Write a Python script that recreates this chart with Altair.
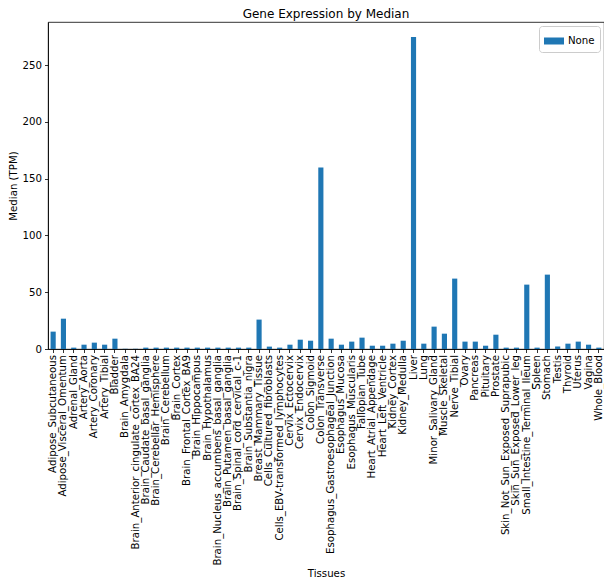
import altair as alt
import pandas as pd

tissues = [
    "Adipose_Subcutaneous", "Adipose_Visceral_Omentum", "Adrenal_Gland", "Artery_Aorta",
    "Artery_Coronary", "Artery_Tibial", "Bladder", "Brain_Amygdala",
    "Brain_Anterior_cingulate_cortex_BA24", "Brain_Caudate_basal_ganglia",
    "Brain_Cerebellar_Hemisphere", "Brain_Cerebellum", "Brain_Cortex",
    "Brain_Frontal_Cortex_BA9", "Brain_Hippocampus", "Brain_Hypothalamus",
    "Brain_Nucleus_accumbens_basal_ganglia", "Brain_Putamen_basal_ganglia",
    "Brain_Spinal_cord_cervical_c-1", "Brain_Substantia_nigra", "Breast_Mammary_Tissue",
    "Cells_Cultured_fibroblasts", "Cells_EBV-transformed_lymphocytes", "Cervix_Ectocervix",
    "Cervix_Endocervix", "Colon_Sigmoid", "Colon_Transverse",
    "Esophagus_Gastroesophageal_Junction", "Esophagus_Mucosa", "Esophagus_Muscularis",
    "Fallopian_Tube", "Heart_Atrial_Appendage", "Heart_Left_Ventricle", "Kidney_Cortex",
    "Kidney_Medulla", "Liver", "Lung", "Minor_Salivary_Gland", "Muscle_Skeletal",
    "Nerve_Tibial", "Ovary", "Pancreas", "Pituitary", "Prostate",
    "Skin_Not_Sun_Exposed_Suprapubic", "Skin_Sun_Exposed_Lower_leg",
    "Small_Intestine_Terminal_Ileum", "Spleen", "Stomach", "Testis", "Thyroid",
    "Uterus", "Vagina", "Whole_Blood",
]

medians = [
    15.3, 26.7, 1.2, 3.8,
    5.6, 3.8, 9.1, 0.2,
    0.2, 1.2,
    1.2, 1.2, 1.2,
    1.2, 1.2, 1.2,
    1.2, 1.2,
    1.2, 1.2, 25.9,
    2.1, 1.2, 3.8,
    8.2, 7.3, 159.8,
    9.1, 3.8, 6.5,
    10.0, 2.9, 2.9, 4.7,
    7.3, 274.7, 4.7, 19.7, 13.5,
    62.0, 6.5, 6.5, 2.9, 12.6,
    1.2, 1.2,
    56.7, 1.2, 65.5, 2.1, 4.7,
    6.5, 3.8, 1.2,
]

series_name = "None"

df = pd.DataFrame({"Tissues": tissues, "Median": medians, "series": series_name})

FONT = "DejaVu Sans"

chart = (
    alt.Chart(df)
    .mark_bar()
    .encode(
        x=alt.X(
            "Tissues:N",
            sort=None,
            scale=alt.Scale(paddingInner=0.5, paddingOuter=0.25),
            axis=alt.Axis(title="Tissues", labelAngle=-90, labelPadding=2, labelLimit=400, titlePadding=19),
        ),
        y=alt.Y(
            "Median:Q",
            scale=alt.Scale(domain=[0, 288], nice=False),
            axis=alt.Axis(title="Median (TPM)", values=[0, 50, 100, 150, 200, 250], labelPadding=3, titlePadding=4),
        ),
        color=alt.Color(
            "series:N",
            scale=alt.Scale(range=["#1f77b4"]),
            legend=alt.Legend(
                title=None,
                orient="top-right",
                offset=4,
                padding=5,
                fillColor="white",
                strokeColor="#cccccc",
                cornerRadius=3,
                symbolType="M-1,-0.35H1V0.35H-1Z",
                symbolSize=400,
                symbolStrokeWidth=0,
                labelFontSize=10.2,
                labelFont=FONT,
                labelColor="black",
            ),
        ),
    )
    .properties(
        width=556,
        height=327,
        title=alt.TitleParams("Gene Expression by Median", fontSize=12, fontWeight="normal", font=FONT, color="black", offset=1),
        autosize=alt.AutoSizeParams(type="none"),
        padding={"left": 40, "top": 14, "right": 0, "bottom": 234},
    )
    .configure_view(stroke="black", strokeWidth=0.8)
    .configure_axis(
        grid=False,
        domainColor="black",
        domainWidth=0.8,
        tickColor="black",
        tickSize=3.5,
        tickWidth=0.8,
        labelFont=FONT,
        labelFontSize=10.2,
        labelColor="black",
        titleFont=FONT,
        titleFontSize=10.2,
        titleFontWeight="normal",
        titleColor="black",
    )
)

chart.save("out.html", embed_options={"renderer": "svg", "actions": False})
